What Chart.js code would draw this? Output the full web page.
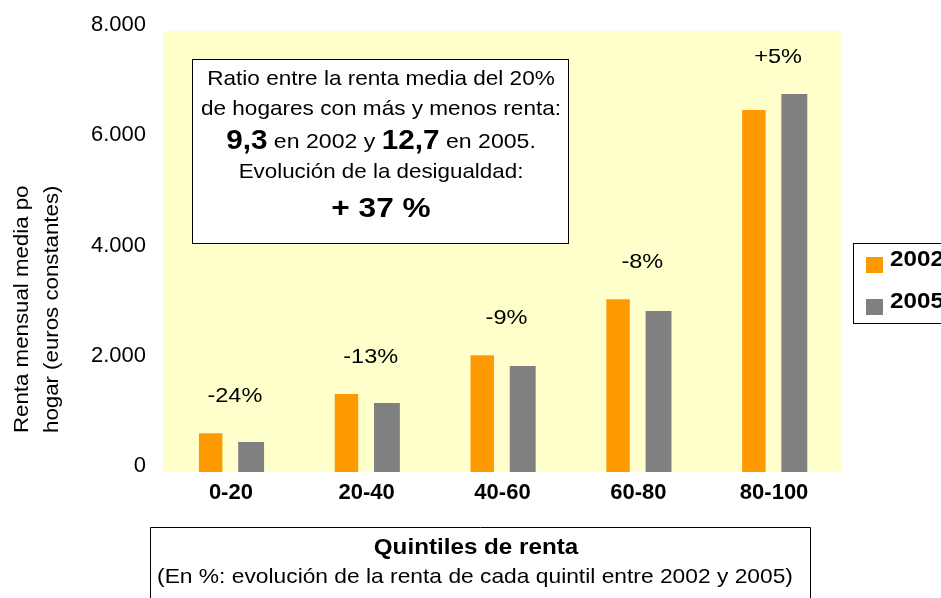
<!DOCTYPE html>
<html>
<head>
<meta charset="utf-8">
<script src="https://cdn.jsdelivr.net/npm/chart.js@4"></script>
<style>
html, body { margin: 0; padding: 0; background: #fff; }
#wrap { width: 941px; height: 598px; }
</style>
</head>
<body>
<div id="wrap"><canvas id="chart" width="941" height="598"></canvas></div>
<script>
// === datos (renta mensual media, euros constantes) ===
const quintiles = ['0-20', '20-40', '40-60', '60-80', '80-100'];
const renta2002 = [705, 1415, 2120, 3135, 6565];
const renta2005 = [545, 1250, 1925, 2920, 6855];
const evolucion = ['-24%', '-13%', '-9%', '-8%', '+5%'];
const yTicks = [0, 2000, 4000, 6000, 8000];
const seriesNames = ['2002', '2005'];
const seriesColors = ['#FF9900', '#808080'];

const FONT = '"Liberation Sans", Arial, sans-serif';

function fmtMiles(v) {
    return String(v).replace(/\B(?=(\d{3})+(?!\d))/g, '.');
}

// texto algo ensanchado, como en el original
function txt(ctx, s, x, y, font, align, sx) {
    ctx.save();
    ctx.font = font;
    ctx.textAlign = align || 'center';
    ctx.textBaseline = 'middle';
    ctx.translate(x, y);
    ctx.scale(sx || 1, 1);
    ctx.fillText(s, 0, 0);
    ctx.restore();
}

// fondo amarillo del área de trazado
const fondo = {
    id: 'fondo',
    beforeDraw(chart) {
        const { ctx, chartArea: a } = chart;
        ctx.save();
        ctx.fillStyle = '#FFFFCC';
        ctx.fillRect(a.left, a.top, a.right - a.left, a.bottom - a.top);
        ctx.restore();
    }
};

// textos, recuadros y leyenda
const extras = {
    id: 'extras',
    afterDraw(chart) {
        const ctx = chart.ctx;
        const xs = chart.scales.x, ys = chart.scales.y;
        ctx.save();
        ctx.fillStyle = '#000';
        ctx.strokeStyle = '#000';
        ctx.lineWidth = 1;

        // % de evolución sobre cada quintil
        evolucion.forEach((t, i) => {
            const top = Math.max(renta2002[i], renta2005[i]);
            txt(ctx, t, xs.getPixelForValue(i) + 4, ys.getPixelForValue(top) - 37, '21px ' + FONT, 'center', 1.12);
        });

        // recuadro del ratio
        ctx.fillStyle = '#fff';
        ctx.fillRect(192.5, 59.5, 376, 184);
        ctx.strokeRect(192.5, 59.5, 376, 184);
        ctx.fillStyle = '#000';
        const cx = 381;
        txt(ctx, 'Ratio entre la renta media del 20%', cx, 79, '21px ' + FONT, 'center', 1.075);
        txt(ctx, 'de hogares con más y menos renta:', cx, 109, '21px ' + FONT, 'center', 1.075);
        // línea mixta
        const sx = 1.1;
        const parts = [
            ['9,3', 'bold 27px ' + FONT],
            [' en 2002 y ', '21px ' + FONT],
            ['12,7', 'bold 27px ' + FONT],
            [' en 2005.', '21px ' + FONT]
        ];
        let w = 0;
        parts.forEach(p => { ctx.font = p[1]; w += ctx.measureText(p[0]).width * sx; });
        let x = cx - w / 2;
        parts.forEach(p => {
            txt(ctx, p[0], x, 142, p[1], 'left', sx);
            ctx.font = p[1];
            x += ctx.measureText(p[0]).width * sx;
        });
        txt(ctx, 'Evolución de la desigualdad:', cx, 172, '21px ' + FONT, 'center', 1.065);
        txt(ctx, '+ 37 %', cx, 209, 'bold 28px ' + FONT, 'center', 1.13);

        // leyenda (recortada por el borde derecho)
        ctx.fillStyle = '#fff';
        ctx.fillRect(853.5, 243.5, 100, 80);
        ctx.strokeRect(853.5, 243.5, 100, 80);
        seriesNames.forEach((n, i) => {
            const y = 257 + i * 42;
            ctx.fillStyle = seriesColors[i];
            ctx.fillRect(866, y, 17, 16);
            ctx.fillStyle = '#000';
            txt(ctx, n, 890, y + 3, 'bold 22px ' + FONT, 'left', 1.1);
        });

        // título del eje X en recuadro
        ctx.beginPath();
        ctx.moveTo(150.5, 600);
        ctx.lineTo(150.5, 527.5);
        ctx.lineTo(810.5, 527.5);
        ctx.lineTo(810.5, 600);
        ctx.stroke();
        txt(ctx, 'Quintiles de renta', 476, 548, 'bold 22px ' + FONT, 'center', 1.1);
        txt(ctx, '(En %: evolución de la renta de cada quintil entre 2002 y 2005)', 475, 577, '21px ' + FONT, 'center', 1.085);

        // título del eje Y (dos líneas, recortado arriba)
        ctx.beginPath();
        ctx.rect(0, 185, 90, 300);
        ctx.clip();
        ctx.translate(0, 433);
        ctx.rotate(-Math.PI / 2);
        txt(ctx, 'Renta mensual media por', 0, 22, '21px ' + FONT, 'left', 1.06);
        txt(ctx, 'hogar (euros constantes)', 0, 52, '21px ' + FONT, 'left', 1.06);
        ctx.restore();
    }
};

new Chart(document.getElementById('chart'), {
    type: 'bar',
    data: {
        labels: quintiles,
        datasets: [
            { label: seriesNames[0], data: renta2002, backgroundColor: seriesColors[0], barPercentage: 0.58, categoryPercentage: 0.596 },
            { label: seriesNames[1], data: renta2005, backgroundColor: seriesColors[1], barPercentage: 0.64, categoryPercentage: 0.596 }
        ]
    },
    options: {
        responsive: false,
        animation: false,
        layout: { padding: { top: 31, right: 99, bottom: 0, left: 0 } },
        plugins: { legend: { display: false }, tooltip: { enabled: false } },
        scales: {
            x: {
                grid: { display: false, drawTicks: false },
                border: { display: false },
                ticks: { color: '#000', font: { family: FONT, size: 22, weight: 'bold' }, padding: 8 },
                afterFit: s => { s.height = 126; }
            },
            y: {
                min: 0,
                max: 8000,
                grid: { display: false, drawTicks: false },
                border: { display: false },
                afterBuildTicks: s => { s.ticks = yTicks.map(v => ({ value: v })); },
                ticks: {
                    color: '#000',
                    font: { family: FONT, size: 22 },
                    padding: 17,
                    labelOffset: -6,
                    callback: v => fmtMiles(v)
                },
                afterFit: s => { s.width = 163; }
            }
        }
    },
    plugins: [fondo, extras]
});
</script>
</body>
</html>
